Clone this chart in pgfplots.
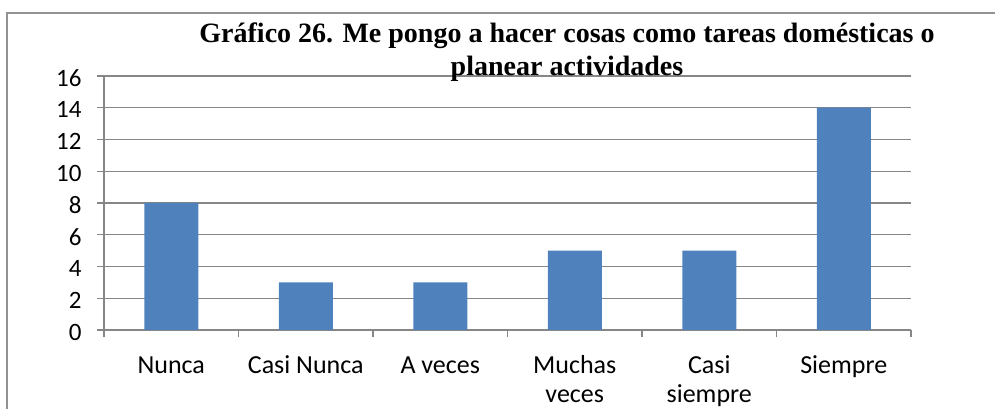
\documentclass[border=0pt]{standalone}
\usepackage{pgfplots}
\pgfplotsset{compat=1.18}
\usepackage{fontspec}
\setmainfont{Carlito}
\newfontfamily\titlefont{Liberation Serif}

\definecolor{barblue}{HTML}{4F81BD}
\definecolor{gridgray}{HTML}{868686}

\begin{document}
\begin{tikzpicture}
\path[use as bounding box] (0pt,0pt) rectangle (995pt,409pt);
% outer chart frame (cut at right and bottom)
\draw[gridgray!90, line width=1.3pt] (995pt,396pt) -- (7pt,396pt) -- (7pt,0pt);

\begin{axis}[
    at={(104pt,79pt)}, anchor=south west,
    width=807pt, height=254pt, scale only axis,
    xmin=-0.5, xmax=5.5,
    ymin=0, ymax=16,
    ytick={0,2,...,16},
    xtick={0,...,5},
    xticklabels={\strut Nunca, \strut Casi Nunca, \strut A veces, {\strut Muchas\\veces}, {\strut Casi\\siempre}, \strut Siempre},
    minor xtick={-0.5,0.5,...,5.5},
    axis x line*=bottom, axis y line*=left,
    ymajorgrids, grid style={gridgray, line width=1.1pt},
    axis line style={gridgray, line width=1.2pt},
    tick style={gridgray, line width=1.2pt},
    tick align=outside,
    major tick length=7pt, minor tick length=7pt,
    x tick style={draw=none},
    minor x tick style={draw=gridgray},
    /pgf/number format/assume math mode=true,
    yticklabel style={font=\fontsize{25}{30}\selectfont, anchor=east, xshift=-12pt, yshift=-2pt},
    xticklabel style={font=\fontsize{26}{29}\selectfont, align=center, anchor=north, yshift=-13pt},
]
\addplot[ybar, fill=barblue, draw=none, bar width=54pt]
    coordinates {(0,8) (1,3) (2,3) (3,5) (4,5) (5,14)};
\end{axis}

\node[font=\titlefont\bfseries\fontsize{28}{33}\selectfont, anchor=base] at (567pt,366pt)
    {Gráfico 26. Me pongo a hacer cosas como tareas domésticas o};
\node[font=\titlefont\bfseries\fontsize{28}{33}\selectfont, anchor=base] at (567pt,333pt)
    {planear actividades};
\end{tikzpicture}
\end{document}
